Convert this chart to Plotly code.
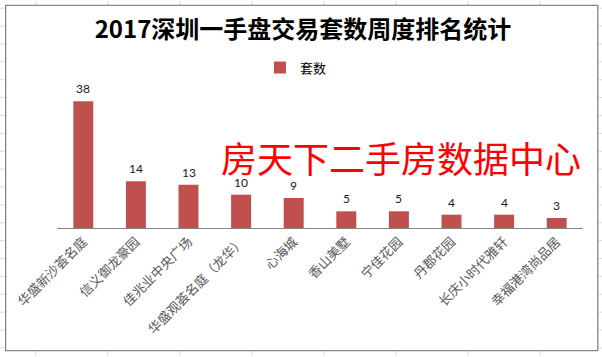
import plotly.graph_objects as go

# ---- data ----
categories = ["华盛新沙荟名庭", "信义御龙豪园", "佳兆业中央广场", "华盛观荟名庭（龙华）", "心海城",
              "香山美墅", "宁佳花园", "丹郡花园", "长庆小时代雅轩", "幸福港湾尚品居"]
values = [38, 14, 13, 10, 9, 5, 5, 4, 4, 3]
series_name = "套数"
title_text = "2017深圳一手盘交易套数周度排名统计"
watermark_text = "房天下二手房数据中心"

# ---- layout geometry (pixels) ----
FIG_W, FIG_H = 602, 357
L, R_EDGE = 57.3, 582.7
AX_Y = 228.3
Y_MAX = 45
PX_PER_UNIT = 3.35
T = AX_Y - Y_MAX * PX_PER_UNIT
W = R_EDGE - L
H = AX_Y - T


def px_x(px):
    return (px - L) / W


def px_y(py):
    return (AX_Y - py) / H


BAR_COLOR = "#C0504D"

fig = go.Figure()
fig.add_trace(go.Bar(
    x=categories, y=values, name=series_name,
    marker=dict(color=BAR_COLOR, line=dict(width=0)),
    showlegend=True,
))

# value labels
annotations = []
for c, v in zip(categories, values):
    annotations.append(dict(
        x=c, y=v, xref="x", yref="y", text=str(v), showarrow=False,
        yanchor="bottom", yshift=3,
        font=dict(family="Lato, Open Sans, sans-serif", size=12, color="#1a1a1a"),
    ))

# watermark
annotations.append(dict(
    x=px_x(401), y=px_y(157), xref="paper", yref="paper", text=watermark_text,
    showarrow=False, xanchor="center", yanchor="middle",
    font=dict(family="Noto Sans CJK SC", size=36, color="#FF0000"),
))

# excel-like background grid + chart border
shapes = []
GRID = "#dcdcdc"
for gx in [36, 108, 180, 252, 324, 396, 468, 540]:
    shapes.append(dict(type="line", xref="paper", yref="paper", layer="below",
                       x0=px_x(gx), x1=px_x(gx), y0=px_y(0), y1=px_y(FIG_H),
                       line=dict(color=GRID, width=1)))
gy = 7.4
while gy < FIG_H:
    shapes.append(dict(type="line", xref="paper", yref="paper", layer="below",
                       x0=px_x(0), x1=px_x(FIG_W), y0=px_y(gy), y1=px_y(gy),
                       line=dict(color=GRID, width=1)))
    gy += 17.97
shapes.append(dict(type="rect", xref="paper", yref="paper", layer="below",
                   x0=px_x(6), x1=px_x(597.5), y0=px_y(4.5), y1=px_y(351.5),
                   fillcolor="white", line=dict(color="#868686", width=1.3)))

fig.update_layout(
    width=FIG_W, height=FIG_H,
    margin=dict(l=L, r=FIG_W - R_EDGE, t=T, b=FIG_H - AX_Y, pad=0),
    paper_bgcolor="white", plot_bgcolor="white",
    bargap=0.62,
    title=dict(text="<b>" + title_text + "</b>", x=303 / FIG_W,
               xref="container", xanchor="center", y=1 - 30 / FIG_H, yanchor="middle",
               font=dict(family="Noto Sans CJK SC", size=24, color="#000000")),
    legend=dict(orientation="h", x=px_x(260), y=px_y(52), xanchor="left", yanchor="top",
                font=dict(family="Noto Sans CJK SC", size=13, color="#000000"),
                bgcolor="rgba(0,0,0,0)", itemwidth=30),
    xaxis=dict(showgrid=False, showline=True, linecolor="#868686", linewidth=1,
               ticks="", tickangle=-45, automargin=False,
               tickfont=dict(family="Noto Sans CJK SC", size=13, color="#595959"),
               range=[-0.5, len(categories) - 0.5], fixedrange=True),
    yaxis=dict(visible=False, range=[0, Y_MAX], showgrid=False, zeroline=False,
               automargin=False),
    annotations=annotations,
    shapes=shapes,
)

fig.write_html("out.html", config={"displayModeBar": False},
               post_script="document.body.style.margin='0px';document.body.style.overflow='hidden';")
